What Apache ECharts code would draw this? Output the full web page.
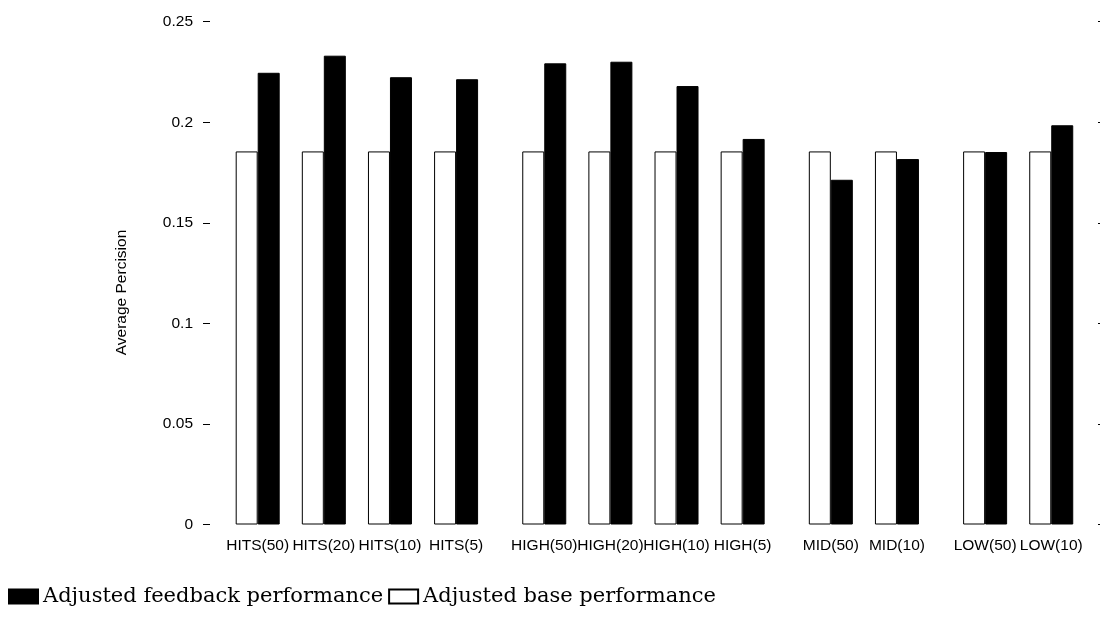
<!DOCTYPE html>
<html>
<head>
<meta charset="utf-8">
<script src="https://cdn.jsdelivr.net/npm/echarts@6/dist/echarts.min.js"></script>
<style>
  html, body { margin: 0; padding: 0; background: #fff; }
  #chart { width: 1100px; height: 631px; }
</style>
</head>
<body>
<div id="chart"></div>
<script>
// Run labels, grouped by method
const categories = ['HITS(50)', 'HITS(20)', 'HITS(10)', 'HITS(5)',
                    'HIGH(50)', 'HIGH(20)', 'HIGH(10)', 'HIGH(5)',
                    'MID(50)', 'MID(10)',
                    'LOW(50)', 'LOW(10)'];
const groupSizes = [4, 4, 2, 2];

// Average precision per run
const basePerformance = [0.1855, 0.1855, 0.1855, 0.1855,
                         0.1855, 0.1855, 0.1855, 0.1855,
                         0.1855, 0.1855,
                         0.1855, 0.1855];
const feedbackPerformance = [0.2246, 0.2331, 0.2224, 0.2214,
                             0.2293, 0.2301, 0.2180, 0.1917,
                             0.1714, 0.1817,
                             0.1852, 0.1985];

const yTicks = [0, 0.05, 0.1, 0.15, 0.2, 0.25];

// Slot positions along x: one unit per run, an extra third of a unit between groups
const GROUP_SPACE = 1 / 3;
const positions = [];
(function () {
  let x = 0;
  groupSizes.forEach(function (n, g) {
    if (g > 0) x += GROUP_SPACE;
    for (let i = 0; i < n; i++) { positions.push(x); x += 1; }
  });
})();

function labelFor(v) {
  let best = 0;
  for (let i = 1; i < positions.length; i++) {
    if (Math.abs(positions[i] - v) < Math.abs(positions[best] - v)) best = i;
  }
  return categories[best];
}

const axisFont = { fontFamily: 'Liberation Sans, Arial, sans-serif', fontSize: 15.5, color: '#000' };

const chart = echarts.init(document.getElementById('chart'), null, { renderer: 'canvas' });
chart.setOption({
  animation: false,
  backgroundColor: '#fff',
  grid: { left: 210, right: 2, top: 21.7, bottom: 106.5, containLabel: false },
  xAxis: {
    type: 'value',
    min: -0.7213,
    max: 12.707,
    splitLine: { show: false },
    axisLine: { show: false, onZero: false },
    axisTick: { show: false },
    axisLabel: {
      customValues: positions,
      formatter: labelFor,
      margin: 13,
      ...axisFont
    }
  },
  yAxis: [{
    type: 'value',
    min: yTicks[0],
    max: yTicks[yTicks.length - 1],
    interval: 0.05,
    splitLine: { show: false },
    axisLine: { show: false, onZero: false },
    axisTick: { show: true, length: 7, lineStyle: { color: '#000', width: 1 } },
    axisLabel: { margin: 17, ...axisFont }
  }, {
    type: 'value',
    position: 'right',
    min: yTicks[0],
    max: yTicks[yTicks.length - 1],
    interval: 0.05,
    splitLine: { show: false },
    axisLine: { show: false, onZero: false },
    axisTick: { show: true, length: 7, lineStyle: { color: '#000', width: 1 } },
    axisLabel: { show: false }
  }],
  legend: {
    left: 8,
    top: 586,
    padding: 0,
    itemWidth: 29,
    itemHeight: 14,
    itemGap: 5,
    textStyle: { fontFamily: 'DejaVu Serif, serif', fontSize: 21, color: '#000' },
    data: [
      { name: 'Adjusted feedback performance', icon: 'rect' },
      { name: 'Adjusted base performance', icon: 'rect', itemStyle: { borderWidth: 2, borderColor: '#000' } }
    ]
  },
  graphic: [{
    type: 'text',
    x: 122,
    y: 292.5,
    rotation: Math.PI / 2,
    style: {
      text: 'Average Percision',
      font: '15.5px "Liberation Sans", Arial, sans-serif',
      fill: '#000',
      align: 'center',
      verticalAlign: 'middle'
    }
  }],
  series: [{
    name: 'Adjusted base performance',
    type: 'bar',
    barWidth: 22,
    barGap: '0%',
    itemStyle: { color: '#fff', borderColor: '#000', borderWidth: 1 },
    data: positions.map(function (p, i) { return [p, basePerformance[i]]; })
  }, {
    name: 'Adjusted feedback performance',
    type: 'bar',
    barWidth: 22,
    barGap: '0%',
    itemStyle: { color: '#000', borderColor: '#000', borderWidth: 1 },
    data: positions.map(function (p, i) { return [p, feedbackPerformance[i]]; })
  }]
});
</script>
</body>
</html>
